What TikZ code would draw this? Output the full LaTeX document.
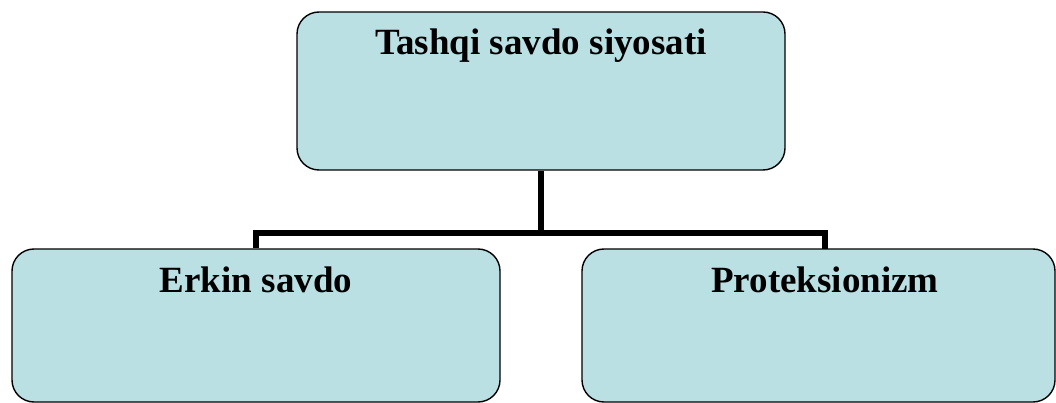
\documentclass[tikz,border=0pt]{standalone}
\usepackage{fontspec}
\setmainfont{Liberation Serif}
\usepackage{tikz}
\definecolor{boxblue}{RGB}{186,224,228}

\begin{document}
\begin{tikzpicture}[
    x=1pt, y=-1pt,
    box/.style={draw=black, line width=1.4pt, fill=boxblue, rounded corners=22pt, inner sep=0pt},
    title/.style={anchor=base, font=\fontsize{37}{44}\selectfont\bfseries},
    link/.style={line width=6.5pt, line join=miter, color=black}
    ]

    % frame
    \useasboundingbox (0,0) rectangle (1056,403);
    % boxes
    \node[box, minimum width=488pt, minimum height=158pt,
          label={[title, yshift=-43pt]north:Tashqi savdo siyosati}] (policy) at (541,91) {};
    \node[box, minimum width=488pt, minimum height=153pt,
          label={[title, yshift=-44pt]north:Erkin savdo}] (free) at (256,325.5) {};
    \node[box, minimum width=473pt, minimum height=153pt,
          label={[title, yshift=-44pt, xshift=6.5pt]north:Proteksionizm}] (protect) at (818.5,325.5) {};
    % tree lines
    \coordinate (bus) at (541,233);
    \coordinate (protect top) at (825,249);
    \draw[link] (policy.south) -- (bus);
    \draw[link] (free.north) |- (bus) -| (protect top);
\end{tikzpicture}
\end{document}
